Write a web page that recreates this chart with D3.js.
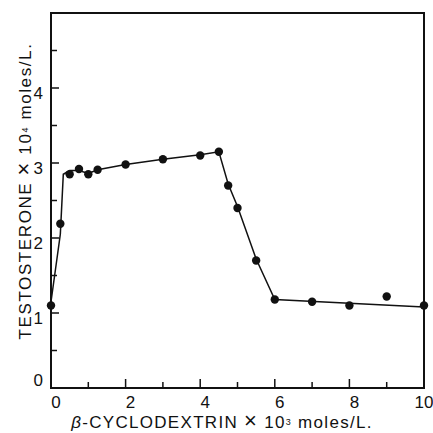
<!DOCTYPE html>
<html>
<head>
<meta charset="utf-8">
<script src="https://cdn.jsdelivr.net/npm/d3@7"></script>
<style>
  body { margin: 0; background: #fff; }
  svg { display: block; }
  text { fill: #111; }
</style>
</head>
<body>
<svg id="chart" width="433" height="433"></svg>
<script>
// measured points
const cdConc = [0, 0.25, 0.5, 0.75, 1.0, 1.25, 2, 3, 4, 4.5, 4.75, 5, 5.5, 6, 7, 8, 9, 10];
const testosterone = [1.10, 2.19, 2.85, 2.92, 2.85, 2.91, 2.98, 3.05, 3.10, 3.15, 2.70, 2.40, 1.70, 1.18, 1.15, 1.10, 1.22, 1.10];

// drawn curve
const curveX = [0, 0.25, 0.33, 0.5, 0.75, 1.0, 1.25, 2, 3, 4, 4.5, 4.75, 5, 5.5, 6, 10];
const curveY = [1.15, 2.05, 2.85, 2.9, 2.9, 2.86, 2.91, 2.98, 3.05, 3.11, 3.15, 2.72, 2.42, 1.72, 1.18, 1.08];

const xTicks = d3.range(0, 11, 1);
const xLabels = [0, 2, 4, 6, 8, 10];
const yTicks = d3.range(0, 5.01, 0.5);
const yLabels = [0, 1, 2, 3, 4];

const svg = d3.select('#chart');
const margin = { left: 51, right: 9, top: 13, bottom: 45 };
const width = 433 - margin.left - margin.right;
const height = 433 - margin.top - margin.bottom;

const x = d3.scaleLinear().domain([0, 10]).range([0, width]);
const y = d3.scaleLinear().domain([0, 5]).range([height, 0]);

const g = svg.append('g').attr('transform', `translate(${margin.left},${margin.top})`);
const tickFont = '"Liberation Sans Narrow", "Liberation Sans", Arial, sans-serif';

// frame
g.append('rect')
    .attr('width', width)
    .attr('height', height)
    .attr('fill', 'none')
    .attr('stroke', '#111')
    .attr('stroke-width', 2);

// inward ticks on x
g.selectAll('.xt')
    .data(xTicks.filter(d => d > 0 && d < 10))
    .join('line')
    .attr('x1', d => x(d)).attr('x2', d => x(d))
    .attr('y1', height)
    .attr('y2', d => height - (d % 2 === 0 ? 9 : 6))
    .attr('stroke', '#111')
    .attr('stroke-width', 1.5);

g.selectAll('.xl')
    .data(xLabels)
    .join('text')
    .attr('x', d => x(d) + (d === 10 ? 0 : 5))
    .attr('y', height + 20)
    .attr('text-anchor', 'middle')
    .style('font-family', tickFont)
    .style('font-size', '17px')
    .text(d => d);

// inward ticks on y
g.selectAll('.yt')
    .data(yTicks.filter(d => d > 0 && d < 5))
    .join('line')
    .attr('x1', 0)
    .attr('x2', d => (d % 1 === 0 ? 8 : 6))
    .attr('y1', d => y(d)).attr('y2', d => y(d))
    .attr('stroke', '#111')
    .attr('stroke-width', 1.5);

g.selectAll('.yl')
    .data(yLabels)
    .join('text')
    .attr('x', -8)
    .attr('y', d => y(d) + (d === 0 ? -2 : 11))
    .attr('text-anchor', 'end')
    .style('font-family', tickFont)
    .style('font-size', '17px')
    .text(d => d);

// curve
const line = d3.line().x(d => x(d[0])).y(d => y(d[1]));
g.append('path')
    .datum(d3.zip(curveX, curveY))
    .attr('d', line)
    .attr('fill', 'none')
    .attr('stroke', '#111')
    .attr('stroke-width', 1.5);

// points
g.selectAll('circle')
    .data(d3.zip(cdConc, testosterone))
    .join('circle')
    .attr('cx', d => x(d[0]))
    .attr('cy', d => y(d[1]))
    .attr('r', 4.2)
    .attr('fill', '#111');

// axis titles
const labelFont = '"Liberation Sans", Arial, sans-serif';
const xt = svg.append('text')
    .attr('x', 222)
    .attr('y', 428)
    .attr('text-anchor', 'middle')
    .style('font-family', labelFont)
    .style('font-size', '17px')
    .style('letter-spacing', '1.3px');
xt.append('tspan').style('font-style', 'italic').text('β');
xt.append('tspan').text('-CYCLODEXTRIN ');
xt.append('tspan').style('font-size', '22px').text('×');
xt.append('tspan').text(' 10');
xt.append('tspan').style('font-size', '9px').attr('dy', -3).text('3');
xt.append('tspan').attr('dy', 3).text(' moles/L.');

const yt = svg.append('text')
    .attr('transform', 'translate(31,191) rotate(-90)')
    .attr('text-anchor', 'middle')
    .style('font-family', labelFont)
    .style('font-size', '17px')
    .style('letter-spacing', '1.6px');
yt.append('tspan').text('TESTOSTERONE ');
yt.append('tspan').style('font-size', '22px').text('×');
yt.append('tspan').text(' 10');
yt.append('tspan').style('font-size', '9px').attr('dy', -3).text('4');
yt.append('tspan').attr('dy', 3).text(' moles/L.');
</script>
</body>
</html>
